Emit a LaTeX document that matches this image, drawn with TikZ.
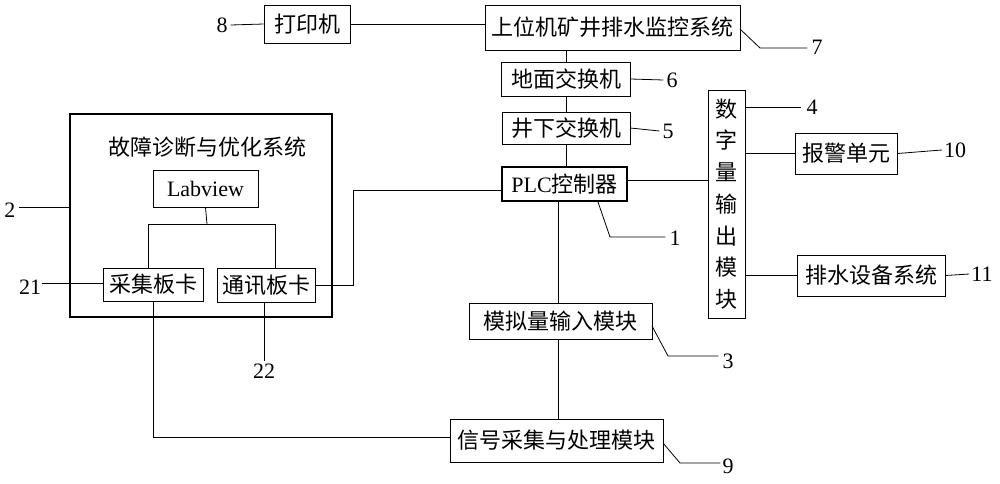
\documentclass[tikz,border=0pt]{standalone}
\usepackage{fontspec}
\setmainfont{Liberation Serif}
\newfontfamily\cjk{Noto Sans CJK SC}
\usetikzlibrary{calc}
\begin{document}
\begin{tikzpicture}[x=1pt,y=-1pt,
  box/.style={draw, line width=0.8pt, inner sep=0pt, font=\fontsize{22}{26}\selectfont\cjk, align=center},
  thickbox/.style={box, line width=2.6pt},
  wire/.style={line width=0.8pt},
  num/.style={inner sep=0pt, font=\fontsize{22}{26}\selectfont}]
\fill[white] (0,0) rectangle (1000,483);
\useasboundingbox (0,0) rectangle (1000,483);

% boxes
\node[box, minimum width=86pt, minimum height=38pt] (printer) at (307,24) {打印机};
\node[box, minimum width=255pt, minimum height=45pt] (host) at (612.5,27.5) {上位机矿井排水监控系统};
\node[box, minimum width=129pt, minimum height=34pt] (ground) at (566,79) {地面交换机};
\node[box, minimum width=128pt, minimum height=32pt] (under) at (566,128) {井下交换机};
\node[thickbox, minimum width=125pt, minimum height=34pt] (plc) at (564.5,184) {{\rmfamily PLC}控制器};
\node[box, minimum width=37pt, minimum height=228pt, font=\fontsize{22}{31.7}\selectfont\cjk] (dig) at (726.5,204) {数\\字\\量\\输\\出\\模\\块};
\node[box, minimum width=102pt, minimum height=41pt] (alarm) at (846,153.5) {报警单元};
\node[box, minimum width=148pt, minimum height=41pt] (drain) at (871,275.5) {排水设备系统};
\node[box, minimum width=183pt, minimum height=36pt] (analog) at (560.5,321) {模拟量输入模块};
\node[box, minimum width=213pt, minimum height=43pt] (signal) at (556.5,440.5) {信号采集与处理模块};

\node[thickbox, minimum width=262pt, minimum height=203pt] (diag) at (201,215.5) {};
\node[inner sep=0pt, font=\fontsize{22}{26}\selectfont\cjk] (diagtitle) at (207,147) {故障诊断与优化系统};
\node[box, minimum width=105pt, minimum height=37pt, font=\fontsize{22}{26}\selectfont] (lab) at (205.5,188.5) {Labview};
\node[box, minimum width=100pt, minimum height=33pt] (acq) at (153,284.5) {采集板卡};
\node[box, minimum width=98pt, minimum height=34pt] (comm) at (266,285) {通讯板卡};

% number labels
\node[num] (n8) at (222,25) {8};
\node[num] (n7) at (817,47) {7};
\node[num] (n6) at (672,80) {6};
\node[num] (n5) at (668,131) {5};
\node[num] (n4) at (812,107) {4};
\node[num] (n10) at (955,150) {10};
\node[num] (n11) at (982,274) {11};
\node[num] (n1) at (675,238) {1};
\node[num] (n3) at (728,361) {3};
\node[num] (n9) at (728,466) {9};
\node[num] (n2) at (10,210) {2};
\node[num] (n21) at (30,287) {21};
\node[num] (n22) at (264,371) {22};

% main connectors
\draw[wire] (printer.east) -- (printer.east -| host.west);
\draw[wire] (ground.north) -- (ground.north |- host.south);
\draw[wire] (under.north) -- (under.north |- ground.south);
\draw[wire] (under.south) -- (under.south |- plc.north);
\draw[wire] (plc.south -| 558,0) -- (analog.north -| 558,0);
\draw[wire] (signal.north -| 558,0) -- (analog.south -| 558,0);
\draw[wire] (plc.east |- 0,180) -- (dig.west |- 0,180);
\draw[wire] (alarm.west -| dig.east) -- (alarm.west);
\draw[wire] (drain.west -| dig.east) -- (drain.west);

\coordinate (lbr) at (207,224);
\draw[wire] (lab.south) -- (lbr);
\draw[wire] (acq.north -| 148,0) -- (148,224) -- (275,224) -- (comm.north -| 275,0);
\draw[wire] (comm.east) -- (353,285) -- (353,190) -- (plc.west |- 0,190);
\draw[wire] (acq.south) -- (153,437) -- (signal.west |- 0,437);

% leader lines
\draw[wire] (n8.east) ++(3,0) -- (printer.west);
\draw[wire] (740,29) -- (760,48) -- ($(n7.west)+(-4,1)$);
\draw[wire] (ground.east) -- ($(n6.west)+(-3,0)$);
\draw[wire] (under.east) -- ($(n5.west)+(-3,0)$);
\draw[wire] (dig.east |- 0,107) -- ($(n4.west)+(-5,0)$);
\draw[wire] (alarm.east) -- ($(n10.west)+(-2,0)$);
\draw[wire] (drain.east) -- ($(n11.west)+(-2,0)$);
\draw[wire] (598,202) -- (610,237) -- ($(n1.west)+(-4,-1)$);
\draw[wire] (652,326) -- (668,356) -- ($(n3.west)+(-4,-5)$);
\draw[wire] (663,443) -- (680,463) -- ($(n9.west)+(-2,-3)$);
\draw[wire] ($(n2.east)+(3,-3)$) -- (diag.west |- 0,207);
\draw[wire] ($(n21.east)+(1,-4)$) -- (acq.west |- 0,283);
\draw[wire] (comm.south -| 264,0) -- ($(n22.north)+(0,-3)$);
\end{tikzpicture}
\end{document}
